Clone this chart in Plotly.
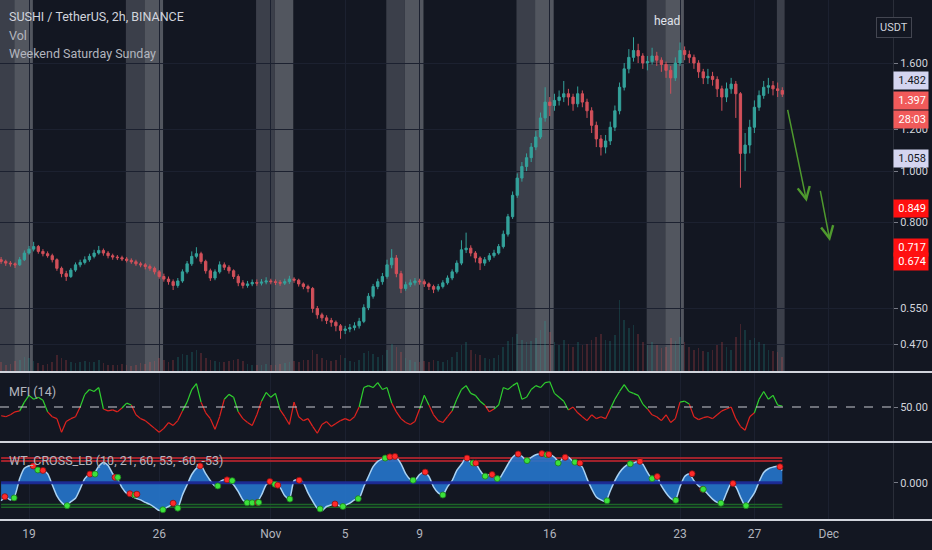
import math
import numpy as np
import pandas as pd
import plotly.graph_objects as go

# ------------------------------------------------------------------ data
bar_start = "2020-10-17 12:00"          # first bar time, 6h bars
first_open = 0.680
close = [
    .675, .670, .668, .665, .680, .700, .712, .720, .705, .698,
    .692, .680, .655, .640, .632, .650, .665, .672, .680, .690,
    .700, .708, .700, .692, .688, .686, .682, .678, .674, .668,
    .665, .660, .655, .645, .632, .625, .618, .608, .620, .645,
    .668, .690, .698, .675, .648, .628, .645, .665, .658, .648,
    .632, .615, .608, .612, .616, .614, .617, .620, .618, .616,
    .614, .618, .625, .622, .612, .605, .600, .550, .535, .528,
    .522, .518, .510, .500, .503, .506, .510, .520, .552, .580,
    .605, .618, .632, .665, .685, .640, .600, .610, .615, .620,
    .618, .612, .605, .598, .605, .615, .628, .645, .670, .710,
    .715, .700, .685, .670, .680, .692, .700, .720, .760, .820,
    .900, .970, 1.020, 1.060, 1.110, 1.160, 1.260, 1.350, 1.330, 1.360,
    1.380, 1.400, 1.380, 1.340, 1.400, 1.350, 1.300, 1.220, 1.150, 1.110,
    1.140, 1.210, 1.300, 1.440, 1.560, 1.640, 1.690, 1.650, 1.600, 1.610,
    1.650, 1.620, 1.590, 1.550, 1.500, 1.600, 1.690, 1.660, 1.640, 1.600,
    1.540, 1.500, 1.510, 1.490, 1.430, 1.380, 1.430, 1.460, 1.400, 1.080,
    1.120, 1.210, 1.320, 1.390, 1.440, 1.450, 1.430, 1.420, 1.397,
]
high = [
    .688, .680, .676, .672, .688, .708, .722, .735, .725, .712,
    .705, .698, .684, .660, .648, .656, .672, .680, .690, .698,
    .710, .722, .714, .706, .698, .694, .692, .688, .684, .680,
    .674, .670, .666, .660, .650, .640, .632, .624, .628, .652,
    .676, .705, .718, .704, .680, .654, .652, .675, .672, .664,
    .652, .638, .622, .620, .624, .624, .625, .630, .626, .624,
    .622, .626, .634, .630, .626, .616, .610, .604, .556, .540,
    .534, .528, .522, .514, .510, .514, .518, .528, .560, .588,
    .612, .626, .642, .680, .712, .694, .648, .618, .624, .628,
    .626, .624, .616, .610, .612, .622, .635, .652, .678, .740,
    .765, .724, .706, .690, .688, .700, .710, .728, .772, .830,
    .915, .990, 1.040, 1.080, 1.130, 1.190, 1.290, 1.440, 1.380, 1.400,
    1.420, 1.480, 1.430, 1.400, 1.445, 1.420, 1.370, 1.320, 1.240, 1.170,
    1.170, 1.240, 1.330, 1.470, 1.600, 1.700, 1.790, 1.740, 1.670, 1.650,
    1.710, 1.680, 1.640, 1.610, 1.580, 1.640, 1.750, 1.720, 1.690, 1.660,
    1.620, 1.560, 1.560, 1.540, 1.510, 1.450, 1.470, 1.500, 1.480, 1.410,
    1.180, 1.250, 1.360, 1.420, 1.480, 1.500, 1.480, 1.470, 1.440,
]
low = [
    .668, .662, .660, .656, .662, .676, .695, .705, .698, .690,
    .686, .672, .648, .630, .620, .628, .645, .658, .666, .674,
    .684, .695, .692, .684, .680, .679, .676, .672, .668, .662,
    .658, .652, .648, .638, .626, .618, .610, .596, .602, .615,
    .640, .662, .684, .668, .640, .620, .622, .640, .650, .640,
    .625, .606, .600, .602, .606, .607, .608, .611, .611, .609,
    .607, .609, .612, .615, .605, .598, .590, .540, .526, .520,
    .514, .508, .498, .482, .492, .496, .500, .504, .516, .546,
    .574, .598, .610, .626, .655, .630, .588, .594, .604, .608,
    .610, .604, .596, .588, .592, .600, .610, .622, .640, .664,
    .700, .690, .672, .650, .662, .674, .686, .695, .714, .752,
    .812, .890, .955, 1.000, 1.040, 1.095, 1.150, 1.240, 1.270, 1.300,
    1.330, 1.350, 1.330, 1.300, 1.320, 1.320, 1.260, 1.180, 1.110, 1.070,
    1.080, 1.120, 1.190, 1.280, 1.420, 1.530, 1.610, 1.600, 1.560, 1.550,
    1.590, 1.580, 1.540, 1.500, 1.400, 1.480, 1.580, 1.620, 1.600, 1.560,
    1.500, 1.460, 1.460, 1.450, 1.380, 1.300, 1.350, 1.400, 1.260, 0.930,
    1.000, 1.080, 1.180, 1.300, 1.370, 1.400, 1.390, 1.380, 1.380,
]
volume = [
    12, 9, 10, 14, 16, 20, 18, 14, 11, 9,
    10, 13, 22, 18, 15, 12, 11, 13, 14, 12,
    13, 16, 11, 9, 8, 9, 10, 8, 7, 9,
    11, 10, 12, 14, 18, 15, 13, 16, 20, 24,
    22, 26, 30, 25, 18, 16, 14, 12, 13, 14,
    15, 17, 14, 10, 9, 8, 9, 10, 8, 9,
    10, 11, 12, 14, 12, 15, 16, 30, 24, 18,
    15, 14, 16, 22, 18, 14, 13, 16, 25, 28,
    24, 20, 22, 30, 38, 34, 26, 18, 15, 13,
    12, 14, 13, 15, 14, 13, 16, 20, 26, 36,
    40, 30, 24, 22, 18, 17, 18, 22, 34, 42,
    48, 52, 44, 40, 42, 46, 58, 70, 54, 40,
    36, 44, 38, 34, 40, 36, 38, 44, 48, 52,
    44, 42, 50, 100, 72, 60, 64, 52, 40, 36,
    40, 36, 32, 34, 46, 42, 48, 40, 34, 30,
    32, 28, 26, 30, 36, 40, 34, 30, 48, 66,
    58, 44, 46, 40, 38, 30, 28, 26, 20,
]
mfi = [
    41, 40, 42, 45, 46, 55, 62, 58, 60, 57,
    45, 40, 38, 24, 35, 38, 40, 50, 63, 68,
    66, 70, 48, 46, 47, 45, 49, 54, 52, 42,
    38, 36, 32, 28, 24, 28, 34, 31, 36, 46,
    55, 68, 74, 55, 44, 38, 27, 40, 58, 63,
    60, 45, 38, 34, 31, 42, 56, 65, 60, 64,
    47, 40, 32, 55, 40, 36, 38, 30, 23, 32,
    35, 30, 33, 36, 38, 36, 40, 50, 70, 72,
    70, 75, 68, 70, 54, 45, 38, 34, 32, 35,
    48, 62, 52, 42, 36, 34, 40, 46, 58, 68,
    72, 64, 62, 56, 52, 45, 48, 52, 70, 68,
    72, 75, 58, 60, 68, 72, 70, 75, 76, 64,
    60, 56, 47, 50, 44, 40, 36, 42, 38, 40,
    38, 48, 58, 66, 73, 66, 64, 62, 53, 48,
    42, 40, 36, 42, 34, 38, 55, 56, 53, 40,
    37, 39, 40, 38, 42, 46, 48, 50, 38, 30,
    26, 40, 44, 58, 66, 58, 62, 52, 51,
]
wt1 = [
    -44, -35, -42, -30, 10, 35, 41, 40, 32, 30,
    22, -5, -32, -48, -56, -46, -38, -15, 10, 20,
    22, 40, 49, 42, 22, 10, -12, -26, -32, -38,
    -42, -48, -53, -60, -68, -64, -58, -52, -60, -30,
    -5, 20, 35, 41, 22, 5, -8, 2, 8, 5,
    -5, -22, -42, -49, -49, -48, -30, -5, 3, -4,
    -12, -32, -40, 5, 8, 0, -25, -45, -62, -68,
    -58, -54, -51, -58, -55, -50, -42, -38, -10, 15,
    39, 52, 58, 62, 64, 62, 46, 22, 8, 6,
    20, 26, 15, -10, -25, -30, -10, 5, 30, 45,
    60, 50, 48, 30, 16, 20, 15, 8, 25, 45,
    62, 70, 64, 54, 62, 68, 71, 70, 68, 62,
    50, 62, 62, 52, 48, 38, 10, -15, -35, -42,
    -46, -20, 5, 25, 38, 46, 48, 52, 45, 25,
    10, 15, -8, -25, -38, -43, -10, 15, 22, 5,
    -8, -16, -28, -40, -48, -50, -25, -2, -10, -35,
    -56, -42, -25, 2, 25, 34, 38, 40, 30,
]
# WT cross dots: position in bars (6h units from bar_start), value, 1 = green / 0 = red
dot_idx = [0.8, 2.8, 6.9, 7.9, 9.0, 14.2, 19.1, 20.2, 24.5, 25.1, 27.7, 28.8, 29.2,
           34.8, 37.0, 38.0, 42.8, 46.6, 48.6, 49.7, 52.9, 54.0, 55.2, 55.4, 57.8,
           58.9, 59.5, 62.1, 64.1, 68.6, 71.8, 73.5, 76.8, 82.6, 83.6, 84.7, 88.6,
           91.2, 95.0, 100.2, 101.5, 102.1, 104.1, 105.6, 106.7, 111.2, 113.1, 116.3,
           117.4, 117.8, 119.8, 121.3, 123.4, 124.5, 130.3, 135.3, 137.4, 140.0,
           141.1, 145.1, 148.6, 150.9, 151.0, 154.8, 157.4, 160.2, 167.5]
dot_val = [-34, -37, 41, 31, 30, -56, 21, 21, 13, 13, -27, -30, -28,
           -66, -50, -62, 41, -8, 7, 5, -49, -49, -48, -48, 3,
           -4, -6, -40, 6, -64, -52, -58, -39, 60, 63, 64, 6,
           26, -30, 60, 48, 48, 16, 20, 10, 70, 54, 71,
           68, 69, 48, 62, 50, 48, -44, 46, 52, 10,
           15, -43, 22, -16, -16, -50, -2, -56, 39]
dot_up = [0, 1, 0, 1, 0, 1, 0, 1, 0, 1, 0, 1, 0,
          1, 0, 1, 0, 1, 0, 1, 1, 1, 0, 1, 0,
          1, 0, 1, 0, 1, 0, 1, 1, 1, 0, 0, 1,
          0, 1, 0, 1, 0, 1, 0, 1, 0, 1, 0,
          1, 0, 1, 0, 1, 0, 1, 1, 0, 1,
          0, 1, 0, 0, 1, 1, 0, 1, 0]

level_white = [1.482, 1.058]
level_red = [0.849, 0.717, 0.674]
last_price = 1.397
countdown = "28:03"
price_ticks = [1.6, 1.2, 1.0, 0.8, 0.55, 0.47]
price_tick_text = ["1.600", "1.200", "1.000", "0.800", "0.550", "0.470"]
date_ticks = ["2020-10-19", "2020-10-26", "2020-11-01", "2020-11-05", "2020-11-09",
              "2020-11-16", "2020-11-23", "2020-11-27", "2020-12-01"]
date_labels = ["19", "26", "Nov", "5", "9", "16", "23", "27", "Dec"]
weekend_saturdays = ["2020-10-17", "2020-10-24", "2020-10-31", "2020-11-07",
                     "2020-11-14", "2020-11-21", "2020-11-28"]
mfi_mid = 50
wt_ob = [60, 53]
wt_os = [-60, -53]
wt_zero = 0
head_label = ("2020-11-22 07:00", 1.921, "head")
arrows = [  # (tip time, tip price, tail time, tail price)
    ("2020-11-29 19:30", 0.875, "2020-11-28 18:30", 1.314),
    ("2020-12-01 01:30", 0.738, "2020-11-30 12:40", 0.9235),
]

# ------------------------------------------------------------------ build
n = len(close)
assert len(high) == n and len(low) == n and len(volume) == n and len(mfi) == n and len(wt1) == n
opens = [first_open] + close[:-1]
times = pd.date_range(bar_start, periods=n, freq="6h")
bar_end = times[-1] + pd.Timedelta(hours=3)
dot_times = pd.Timestamp(bar_start) + pd.to_timedelta(np.array(dot_idx) * 6, unit="h")

BG = "#131722"
GRID = "#1c2130"
TXT = "#b2b5be"
FONT = "Roboto"
UP = "#34a29b"
DN = "#d2505a"

W, H = 932, 550
ML, MR, MT, MB = 0, 39, 0, 30
PW, PH = W - ML - MR, H - MT - MB


def py(px):  # pixel row -> paper y
    return 1 - px / PH


fig = go.Figure()

# volume (behind candles)
vcol = ["rgba(38,166,154,0.22)" if c >= o else "rgba(239,83,80,0.22)" for o, c in zip(opens, close)]
fig.add_trace(go.Bar(x=times, y=volume, marker=dict(color=vcol, line=dict(width=0)),
                     width=6 * 3600 * 1000 * 0.35, xaxis="x", yaxis="y4", hoverinfo="skip"))

fig.add_trace(go.Candlestick(
    x=times, open=opens, high=high, low=low, close=close, xaxis="x", yaxis="y",
    increasing=dict(line=dict(color=UP, width=1), fillcolor=UP),
    decreasing=dict(line=dict(color=DN, width=1), fillcolor=DN),
    whiskerwidth=0, hoverinfo="skip"))

# MFI, green above 50 and red below
gx, gy, rx, ry = [], [], [], []
for i in range(n - 1):
    seg_x = [times[i], times[i + 1], None]
    seg_y = [mfi[i], mfi[i + 1], None]
    if (mfi[i] + mfi[i + 1]) / 2 >= mfi_mid:
        gx += seg_x; gy += seg_y
    else:
        rx += seg_x; ry += seg_y
fig.add_trace(go.Scatter(x=rx, y=ry, mode="lines", line=dict(color="#e0231f", width=1.2),
                         xaxis="x", yaxis="y2", hoverinfo="skip"))
fig.add_trace(go.Scatter(x=gx, y=gy, mode="lines", line=dict(color="#2fd02f", width=1.2),
                         xaxis="x", yaxis="y2", hoverinfo="skip"))

# WT levels
for lv in wt_ob:
    fig.add_trace(go.Scatter(x=[times[0], times[-1]], y=[lv, lv], mode="lines",
                             line=dict(color="rgba(175,35,45,0.9)", width=2),
                             xaxis="x", yaxis="y3", hoverinfo="skip"))
for lv in wt_os:
    fig.add_trace(go.Scatter(x=[times[0], times[-1]], y=[lv, lv], mode="lines",
                             line=dict(color="rgba(30,110,40,0.9)", width=1.5),
                             xaxis="x", yaxis="y3", hoverinfo="skip"))
fig.add_trace(go.Scatter(x=times, y=wt1, mode="lines", fill="tozeroy",
                         fillcolor="rgba(38,118,204,0.9)",
                         line=dict(color="#a9d2f3", width=1.5, shape="spline", smoothing=0.6),
                         xaxis="x", yaxis="y3", hoverinfo="skip"))
fig.add_trace(go.Scatter(x=[times[0], times[-1]], y=[wt_zero, wt_zero], mode="lines",
                         line=dict(color="rgba(28,42,150,0.95)", width=3),
                         xaxis="x", yaxis="y3", hoverinfo="skip"))
fig.add_trace(go.Scatter(x=dot_times, y=dot_val, mode="markers",
                         marker=dict(size=6, color=["#3be23b" if u else "#ff2a2a" for u in dot_up],
                                     line=dict(width=0.8, color=["#1d7a1d" if u else "#8a1010" for u in dot_up])),
                         xaxis="x", yaxis="y3", hoverinfo="skip"))

# ------------------------------------------------------------------ shapes
shapes = []
sat_col, sun_col = "#3b3f4a", "#52565f"
for s in weekend_saturdays:
    s0 = pd.Timestamp(s) + pd.Timedelta(hours=5)
    s1 = s0 + pd.Timedelta(days=1)
    s2 = s1 + pd.Timedelta(days=1)
    for a, b, col in ((s0, s1, sat_col), (s1, s2, sun_col)):
        b = min(b, bar_end)
        if a >= b:
            continue
        shapes.append(dict(type="rect", xref="x", yref="y domain", x0=a, x1=b, y0=0, y1=1,
                           fillcolor=col, line=dict(width=0), layer="below"))
for lv in level_white:
    shapes.append(dict(type="line", xref="paper", yref="y", x0=0, x1=1,
                       y0=math.log10(lv), y1=math.log10(lv), line=dict(color="#d4d5f0", width=1.5)))
for lv in level_red:
    shapes.append(dict(type="line", xref="paper", yref="y", x0=0, x1=1,
                       y0=math.log10(lv), y1=math.log10(lv), line=dict(color="#d8262b", width=1.5)))
shapes.append(dict(type="line", xref="paper", yref="y", x0=0, x1=1,
                   y0=math.log10(last_price), y1=math.log10(last_price),
                   line=dict(color="#ef5350", width=1, dash="dot")))
shapes.append(dict(type="line", xref="paper", yref="y2", x0=0, x1=1, y0=mfi_mid, y1=mfi_mid,
                   line=dict(color="#c8cad0", width=1, dash="dash")))
for sep in (372, 442, 520):
    shapes.append(dict(type="line", xref="paper", yref="paper", x0=0, x1=W / PW,
                       y0=py(sep), y1=py(sep), line=dict(color="#d1d4dc", width=2)))

# ------------------------------------------------------------------ annotations
ann = []
for txt, ypx, col, sz in (("SUSHI / TetherUS, 2h, BINANCE", 17, "#d1d4dc", 12.5),
                          ("Vol", 36, TXT, 12.5),
                          ("Weekend Saturday Sunday", 54, TXT, 12.5),
                          ("MFI (14)", 391, TXT, 12.5),
                          ("WT_CROSS_LB (10, 21, 60, 53, -60, -53)", 460, TXT, 12.5)):
    ann.append(dict(xref="paper", yref="paper", x=7 / PW, y=py(ypx), xanchor="left", yanchor="middle",
                    text=txt, showarrow=False, font=dict(family=FONT, size=sz, color=col)))
ann.append(dict(xref="paper", yref="paper", x=912 / PW, y=py(17), text="USDT", showarrow=False,
                font=dict(family=FONT, size=11, color="#d1d4dc"), bordercolor="#434651",
                borderwidth=1, borderpad=3, bgcolor=BG))
ann.append(dict(xref="x", yref="y", x=head_label[0], y=math.log10(head_label[1]), text=head_label[2],
                showarrow=False, font=dict(family=FONT, size=12, color="#e0e3eb")))
for tip_t, tip_p, tail_t, tail_p in arrows:
    ann.append(dict(xref="x", yref="y", axref="x", ayref="y", x=tip_t, y=math.log10(tip_p),
                    ax=tail_t, ay=math.log10(tail_p), text="", showarrow=True, arrowhead=5,
                    arrowsize=1.6, arrowwidth=1.5, arrowcolor="#4f9a2e"))


def price_box(val, text, bg, fg, yshift=0):
    ann.append(dict(xref="paper", yref="y", x=1, y=math.log10(val), xanchor="left", yanchor="middle",
                    yshift=yshift, text=text, showarrow=False, bgcolor=bg, width=30, align="right",
                    borderpad=2, font=dict(family=FONT, size=11, color=fg)))


for lv in level_white:
    price_box(lv, f"{lv:.3f}", "#d4d5f0", "#131722")
for lv in level_red:
    price_box(lv, f"{lv:.3f}", "#ff1010", "#ffffff")
price_box(last_price, f"{last_price:.3f}", "#f05a5a", "#ffffff", yshift=-6)
price_box(last_price, countdown, "#f05a5a", "#ffffff", yshift=-25)

# ------------------------------------------------------------------ layout
axis_font = dict(family=FONT, size=11, color="#d1d4dc")
fig.update_layout(
    width=W, height=H, margin=dict(l=ML, r=MR, t=MT, b=MB),
    paper_bgcolor=BG, plot_bgcolor=BG, showlegend=False, bargap=0,
    font=dict(family=FONT, color=TXT),
    xaxis=dict(domain=[0, 1], anchor="y3", type="date",
               range=["2020-10-17 10:35", "2020-12-04 10:50"],
               tickvals=date_ticks, ticktext=date_labels, showgrid=True, gridcolor=GRID,
               zeroline=False, showline=False, ticks="", rangeslider=dict(visible=False),
               ticklabelstandoff=6,
               tickfont=dict(family=FONT, size=12, color=TXT)),
    yaxis=dict(domain=[py(371), 1], anchor="x", side="right", type="log",
               range=[math.log10(0.419), math.log10(2.105)],
               tickvals=price_ticks, ticktext=price_tick_text, showgrid=True, gridcolor=GRID,
               ticks="outside", ticklen=4, tickcolor="#787b86", tickfont=axis_font,
               showline=True, linecolor="#2a2e39", zeroline=False),
    yaxis2=dict(domain=[py(441), py(373)], anchor="x", side="right", range=[15, 85],
                tickvals=[mfi_mid], ticktext=["50.00"], showgrid=False, zeroline=False,
                ticks="outside", ticklen=4, tickcolor="#787b86", tickfont=axis_font,
                showline=True, linecolor="#2a2e39"),
    yaxis3=dict(domain=[py(519), py(443)], anchor="x", side="right", range=[-88.5, 96.8],
                tickvals=[wt_zero], ticktext=["0.000"], showgrid=False, zeroline=False,
                ticks="outside", ticklen=4, tickcolor="#787b86", tickfont=axis_font,
                showline=True, linecolor="#2a2e39"),
    yaxis4=dict(overlaying="y", anchor="x", side="right", range=[0, 520], visible=False),
    shapes=shapes, annotations=ann,
)

fig.write_html("out.html", config={"displayModeBar": False},
               post_script="document.body.style.margin='0px';document.body.style.background='#131722';")
